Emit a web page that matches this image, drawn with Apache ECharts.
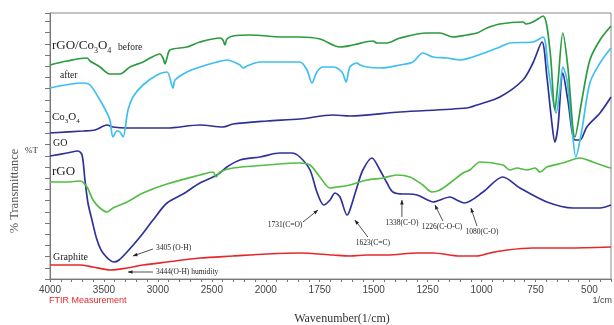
<!DOCTYPE html>
<html>
<head>
<meta charset="utf-8">
<script src="https://cdn.jsdelivr.net/npm/echarts@6/dist/echarts.min.js"></script>
<style>
  html, body { margin: 0; padding: 0; background: #fff; }
  #chart { width: 614px; height: 325px; }
</style>
</head>
<body>
<div id="chart"></div>
<script>
// FTIR spectra: wavenumber (cm-1) and stacked %T readings for each sample
const beforeWn = [4000,3842,3657,3629,3537,3444,3351,3259,3138,3073,2981,2953,2934,2916,2888,2730,2610,2424,2397,2378,2360,2304,2146,1920,1842,1749,1656,1596,1503,1485,1438,1378,1253,1193,1133,1068,1021,975,915,808,794,762,715,683,660,646,623,600,567,535,498,451,400];
const beforeT  = [107,109,110.5,109,106,102.5,102.5,106,108.5,110.5,112.5,110.5,107.5,110.5,114.5,116,118.5,120.5,119.5,117,120,121.5,122,121,121,120,116,117,119,118,118,120.5,123,123,121,122,123,125.5,127.5,128.5,127.5,128.5,131.5,114.5,84.5,98,123,106,71,89.5,109.5,119.5,126.5];

const afterWn = [4000,3694,3629,3537,3472,3444,3416,3379,3351,3323,3277,3231,3138,3008,2916,2860,2841,2730,2610,2452,2360,2239,2211,2174,2054,1842,1809,1786,1763,1735,1689,1647,1628,1610,1577,1563,1531,1471,1378,1318,1272,1225,1160,1100,1040,975,915,868,762,715,692,669,655,637,623,604,581,563,535,498,451,400];
const afterT  = [95.5,98,97,89.5,83,79.5,71,74,73.5,71,84.5,91,97,102,103.5,95.5,99.5,103.5,106,108.5,109.5,107,105.5,106.5,108.5,108.5,104.5,98,103.5,106,106,103.5,98.5,106,108,107,106,105.5,107,108.5,113,111,110.5,109.5,111,113.5,116,118,118.5,121,106,89.5,83,94.5,106,99.5,76,61,74.5,98,108,115.5];

const co3o4Wn = [4000,3694,3583,3472,3416,3286,2916,2610,2397,2304,1994,1842,1689,1610,1378,1068,1021,915,808,762,720,697,674,660,646,623,600,567,544,512,451,400];
const co3o4T  = [73,74,74.5,77,76,75.5,75.5,77,76,77.5,79,80,82,81.5,83.5,85.5,87,91,99.5,108,118.5,101,78,68.5,76,103,89.5,69.5,69.5,76,83,91];

const goWn = [4000,3842,3740,3703,3676,3648,3611,3564,3509,3405,3360,3286,3166,3045,2916,2767,2610,2452,2360,2239,2054,1934,1879,1842,1795,1763,1731,1702,1679,1656,1623,1610,1577,1550,1508,1471,1438,1411,1364,1338,1299,1250,1226,1146,1115,1080,993,901,822,697,576,451,400];
const goT  = [61.5,63,64,62,49.5,38,29.5,19.5,13,8.5,9.5,13.5,21,29.5,38,42.5,48,52,56,59.5,61,63,63,61,54.5,43.5,37,39.5,43,41,32,34.5,46,54.5,60.5,54.5,48,43.5,42.5,42.5,42,39.5,38.5,41,39.5,38,43.5,51,45.5,38.5,35.5,35.5,37];

const rgoWn = [4000,3842,3722,3657,3601,3537,3472,3416,3286,3138,2916,2610,2489,2462,2424,2304,1994,1842,1795,1749,1702,1670,1633,1610,1531,1457,1392,1332,1272,1230,1193,1146,1086,1054,1007,901,868,836,790,752,729,697,623,544,484,419,400];
const rgoT  = [48.5,48.5,49,46,39.5,35.5,33.5,35.5,38.5,43,47.5,52,53.5,51,53.5,55.5,57,58,57,51,45.5,46,46.5,47,49.5,50.5,52,51,47,43.5,44.5,48,53,54.5,58.5,57,54.5,55.5,54.5,55.5,53.5,56,58,60.5,58.5,56,55.5];

const graphiteWn = [4000,3722,3601,3444,3286,3138,2916,2610,2304,1994,1842,1689,1610,1531,1438,1299,1225,1100,1021,961,882,762,604,400];
const graphiteT  = [7,7,6,4.5,5.5,7,8.5,10.5,11.5,12.5,13,12,11.5,12,12,13,13,11.5,11.5,13,14.5,15.5,15.5,16];

const tickLabels = [4000,3500,3000,2500,2000,1750,1500,1250,1000,750,500];

// Peak assignments: label, anchor point (wavenumber, %T) and arrow/text offsets in px
const peakNotes = [
  { label: '3405 (O-H)',         w: 3231, t: 11.5, tail: [20, -7], text: [3, -1], align: 'left' },
  { label: '3444(O-H) humidity', w: 3277, t: 3.5,  tail: [25, 0],  text: [3, 0],  align: 'left' },
  { label: '1731(C=O)',          w: 1758, t: 34.5, tail: [-15, 12], text: [-18, 3], align: 'center' },
  { label: '1623(C=C)',          w: 1587, t: 29.5, tail: [13, 17], text: [5, 6],  align: 'center' },
  { label: '1338(C-O)',          w: 1369, t: 39.5, tail: [0, 17],  text: [0, 6],  align: 'center' },
  { label: '1226(C-O-C)',        w: 1216, t: 37,   tail: [8, 16],  text: [-1, 6], align: 'center' },
  { label: '1080(C-O)',          w: 1049, t: 35.5, tail: [6, 18],  text: [5, 6],  align: 'center' }
];

const SERIF = "'Liberation Serif','Times New Roman',serif";
const SANS = "'Liberation Sans',Arial,sans-serif";

// The wavenumber axis is compressed 2:1 above 2000 cm-1
function toAxis(w) { return w > 2000 ? 2000 + (w - 2000) / 2 : w; }
function fromAxis(u) { return u > 2000 ? 2000 + (u - 2000) * 2 : u; }
function pairs(wn, t) { return wn.map((w, i) => [toAxis(w), t[i]]); }

const spectra = [
  { name: 'GO',               wn: goWn,       t: goT,       color: '#30329a' },
  { name: 'Co3O4',            wn: co3o4Wn,    t: co3o4T,    color: '#2e3094' },
  { name: 'rGO',              wn: rgoWn,      t: rgoT,      color: '#55bd45' },
  { name: 'Graphite',         wn: graphiteWn, t: graphiteT, color: '#e6282b' },
  { name: 'rGO/Co3O4 after',  wn: afterWn,    t: afterT,    color: '#3ebff0' },
  { name: 'rGO/Co3O4 before', wn: beforeWn,   t: beforeT,   color: '#2c9a3e' }
];

const chart = echarts.init(document.getElementById('chart'));

chart.setOption({
  animation: false,
  grid: { left: 50, right: 3, top: 13, bottom: 46, show: true, borderColor: '#8a8a8a', borderWidth: 1 },
  xAxis: {
    type: 'value', inverse: true, min: 400, max: 3000, interval: 50,
    axisLine: { lineStyle: { color: '#777', width: 1 } },
    axisTick: { length: 3, lineStyle: { color: '#777' } },
    axisLabel: {
      margin: 6, fontSize: 10, color: '#444', fontFamily: SANS,
      showMinLabel: true, showMaxLabel: true,
      formatter: function (u) {
        const w = Math.round(fromAxis(u));
        return tickLabels.indexOf(w) >= 0 ? String(w) : '';
      }
    },
    splitLine: { show: false }
  },
  yAxis: {
    type: 'value', min: 0, max: 133, interval: 5.6,
    axisLine: { show: true, lineStyle: { color: '#777' } },
    axisTick: { show: true, length: 5, lineStyle: { color: '#777' } },
    axisLabel: { show: false },
    splitLine: { show: false }
  },
  series: spectra.map(s => ({
    type: 'line', name: s.name, data: pairs(s.wn, s.t),
    showSymbol: false, smooth: 0.3,
    lineStyle: { width: 1.7, color: s.color },
    itemStyle: { color: s.color }
  }))
});

// Text labels and peak arrows
const graphics = [];
function txt(x, y, text, font, fill, align, extra) {
  graphics.push(Object.assign({
    type: 'text', x: x, y: y, silent: true,
    style: { text: text, font: font, fill: fill, align: align || 'left', verticalAlign: 'middle' }
  }, extra || {}));
}
// Chemical formula with lowered subscript digits
function formula(x, y, parts, big, small) {
  const text = parts.map(p => (/^\d$/.test(p) ? '{s|' + p + '}' : '{a|' + p + '}')).join('');
  graphics.push({
    type: 'text', x: x, y: y, silent: true,
    style: {
      text: text, verticalAlign: 'middle',
      rich: {
        a: { fontFamily: SERIF, fontSize: big, fill: '#222', lineHeight: big + 1, verticalAlign: 'top' },
        s: { fontFamily: SERIF, fontSize: small, fill: '#222', lineHeight: big + 2, verticalAlign: 'bottom' }
      }
    }
  });
}

// Sample names
formula(52, 47, ['rGO/Co', '3', 'O', '4'], 13, 8);
txt(118, 47, 'before', '9.5px ' + SERIF, '#222');
txt(60, 75, 'after', '9.5px ' + SERIF, '#222');
formula(52, 118, ['Co', '3', 'O', '4'], 11, 7);
txt(53, 143, 'GO', '10px ' + SERIF, '#222');
txt(25, 151, '%T', '9px ' + SERIF, '#333');
txt(52, 172, 'rGO', '13px ' + SERIF, '#222');
txt(53, 257, 'Graphite', '10px ' + SERIF, '#222');

// Axis titles
txt(15, 191, '% Transmittance', '12.5px ' + SERIF, '#555', 'center', { rotation: Math.PI / 2 });
txt(342, 319, 'Wavenumber(1/cm)', '12px ' + SERIF, '#333', 'center');
txt(49, 301, 'FTIR Measurement', '9px ' + SANS, '#e8262a');
txt(612, 301, '1/cm', '9px ' + SANS, '#444', 'right');

// Peak arrows
peakNotes.forEach(n => {
  const head = chart.convertToPixel({ seriesIndex: 0 }, [toAxis(n.w), n.t]);
  const tail = [head[0] + n.tail[0], head[1] + n.tail[1]];
  graphics.push({
    type: 'line', silent: true,
    shape: { x1: tail[0], y1: tail[1], x2: head[0], y2: head[1] },
    style: { stroke: '#222', lineWidth: 0.8 }
  });
  const dx = head[0] - tail[0], dy = head[1] - tail[1];
  const len = Math.sqrt(dx * dx + dy * dy) || 1;
  const ux = dx / len, uy = dy / len;
  const bx = head[0] - ux * 4.5, by = head[1] - uy * 4.5;
  graphics.push({
    type: 'polygon', silent: true,
    shape: { points: [head, [bx - uy * 1.8, by + ux * 1.8], [bx + uy * 1.8, by - ux * 1.8]] },
    style: { fill: '#222' }
  });
  txt(tail[0] + n.text[0], tail[1] + n.text[1], n.label, '7.5px ' + SERIF, '#222', n.align);
});

chart.setOption({ graphic: graphics });
</script>
</body>
</html>
